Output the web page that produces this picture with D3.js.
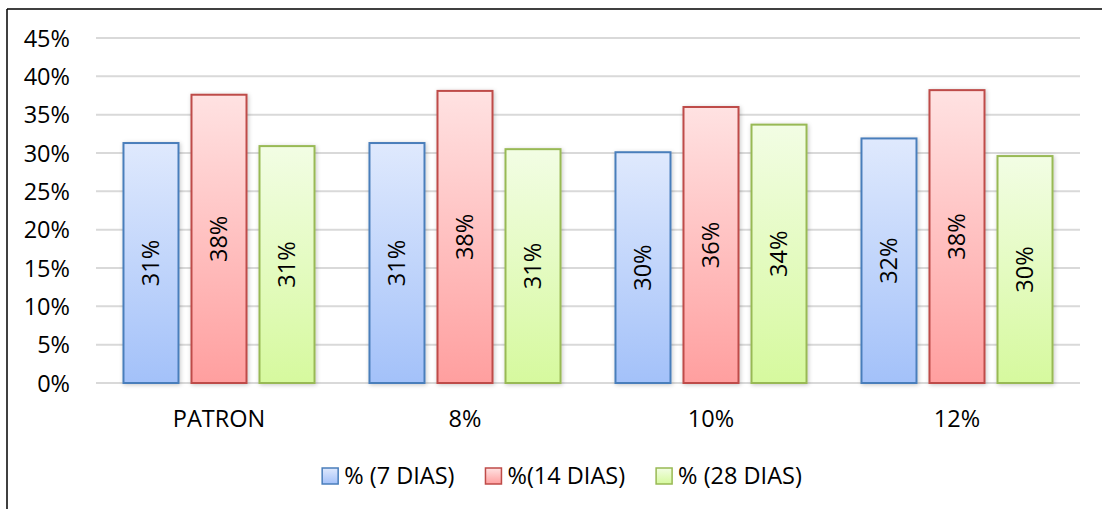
<!DOCTYPE html>
<html>
<head>
<meta charset="utf-8">
<script src="https://cdn.jsdelivr.net/npm/d3@7"></script>
<style>
  html, body { margin: 0; padding: 0; background: #fff; }
  svg { display: block; }
  text { font-family: "Open Sans", "Noto Sans", sans-serif; fill: #000; }
</style>
</head>
<body>
<svg id="chart" width="1102" height="509"></svg>
<script>
// Categories and series
const categories = ["PATRON", "8%", "10%", "12%"];
const seriesNames = ["% (7 DIAS)", "%(14 DIAS)", "% (28 DIAS)"];
const dias7  = [0.313, 0.313, 0.301, 0.319];
const dias14 = [0.376, 0.381, 0.360, 0.382];
const dias28 = [0.309, 0.305, 0.337, 0.296];
const yTicks = [0, 0.05, 0.10, 0.15, 0.20, 0.25, 0.30, 0.35, 0.40, 0.45];

const seriesValues = [dias7, dias14, dias28];
const strokeColors = ["#4a7ebb", "#be4b48", "#98b954"];
const gradTop = ["#dfe9fd", "#ffe2e2", "#f2fde4"];
const gradBottom = ["#a3c1f9", "#ff9f9f", "#d6f99e"];

const svg = d3.select("#chart");
const fontSize = 23.5;

// chart frame (top and left edges)
svg.append("line").attr("x1", 7).attr("y1", 9).attr("x2", 1102).attr("y2", 9)
  .attr("stroke", "#000").attr("stroke-width", 1.5);
svg.append("line").attr("x1", 7).attr("y1", 9).attr("x2", 7).attr("y2", 509)
  .attr("stroke", "#000").attr("stroke-width", 1.5);

const defs = svg.append("defs");
seriesNames.forEach((s, i) => {
  const g = defs.append("linearGradient").attr("id", "grad" + i)
    .attr("x1", 0).attr("y1", 0).attr("x2", 0).attr("y2", 1);
  g.append("stop").attr("offset", "0%").attr("stop-color", gradTop[i]);
  g.append("stop").attr("offset", "100%").attr("stop-color", gradBottom[i]);
});
const shadow = defs.append("filter").attr("id", "shadow")
  .attr("x", "-20%").attr("y", "-10%").attr("width", "140%").attr("height", "120%");
shadow.append("feDropShadow").attr("dx", 1).attr("dy", 1).attr("stdDeviation", 2)
  .attr("flood-color", "#000").attr("flood-opacity", 0.22);

const x = d3.scaleBand().domain(categories).range([96, 1080]).padding(0);
const x1 = d3.scaleBand().domain(d3.range(seriesNames.length))
  .range([0, x.bandwidth()]).paddingInner(0.191).paddingOuter(0.404);
const y = d3.scaleLinear().domain([0, 0.45]).range([383, 38]);

// gridlines
svg.append("g").selectAll("line").data(yTicks).join("line")
  .attr("x1", 96).attr("x2", 1080)
  .attr("y1", d => y(d)).attr("y2", d => y(d))
  .attr("stroke", "#d9d9d9").attr("stroke-width", 2);

// y axis labels
const yAxis = d3.axisLeft(y).tickValues(yTicks).tickSize(0).tickPadding(0)
  .tickFormat(d3.format(".0%"));
const yg = svg.append("g").attr("transform", "translate(70,0)").call(yAxis);
yg.select(".domain").remove();
yg.selectAll("text").attr("font-size", fontSize).attr("font-family", null)
  .attr("dy", "0.35em").style("fill", "#000");

// bars
const groups = svg.append("g").selectAll("g").data(categories).join("g")
  .attr("transform", d => `translate(${x(d)},0)`);

groups.each(function (cat, ci) {
  const g = d3.select(this);
  seriesValues.forEach((vals, si) => {
    const v = vals[ci];
    g.append("rect")
      .attr("x", x1(si)).attr("width", x1.bandwidth())
      .attr("y", y(v)).attr("height", y(0) - y(v))
      .attr("fill", `url(#grad${si})`)
      .attr("stroke", strokeColors[si]).attr("stroke-width", 2)
      .attr("filter", "url(#shadow)");
    const cx = x1(si) + x1.bandwidth() / 2;
    const cy = (y(v) + y(0)) / 2;
    g.append("text")
      .attr("transform", `translate(${cx},${cy}) rotate(-90)`)
      .attr("text-anchor", "middle").attr("dy", "0.35em")
      .attr("font-size", fontSize)
      .text(d3.format(".0%")(v));
  });
});

// x axis labels
const xAxis = d3.axisBottom(x).tickSize(0).tickPadding(0);
const xg = svg.append("g").attr("transform", "translate(0,419)").call(xAxis);
xg.select(".domain").remove();
xg.selectAll("text").attr("font-size", fontSize).attr("font-family", null)
  .attr("dy", "0.35em").style("fill", "#000");

// legend
const legend = svg.append("g");
let lx = 0;
const box = 16, boxGap = 6, itemGap = 31;
seriesNames.forEach((s, i) => {
  const item = legend.append("g").attr("transform", `translate(${lx},0)`);
  item.append("rect").attr("x", 0).attr("y", -box / 2).attr("width", box).attr("height", box)
    .attr("fill", `url(#grad${i})`).attr("stroke", strokeColors[i]).attr("stroke-width", 1.5);
  const t = item.append("text").attr("x", box + boxGap).attr("dy", "0.35em")
    .attr("font-size", fontSize).text(s);
  lx += box + boxGap + t.node().getComputedTextLength() + itemGap;
});
const legendWidth = lx - itemGap;
legend.attr("transform", `translate(${562 - legendWidth / 2},476)`);
</script>
</body>
</html>
